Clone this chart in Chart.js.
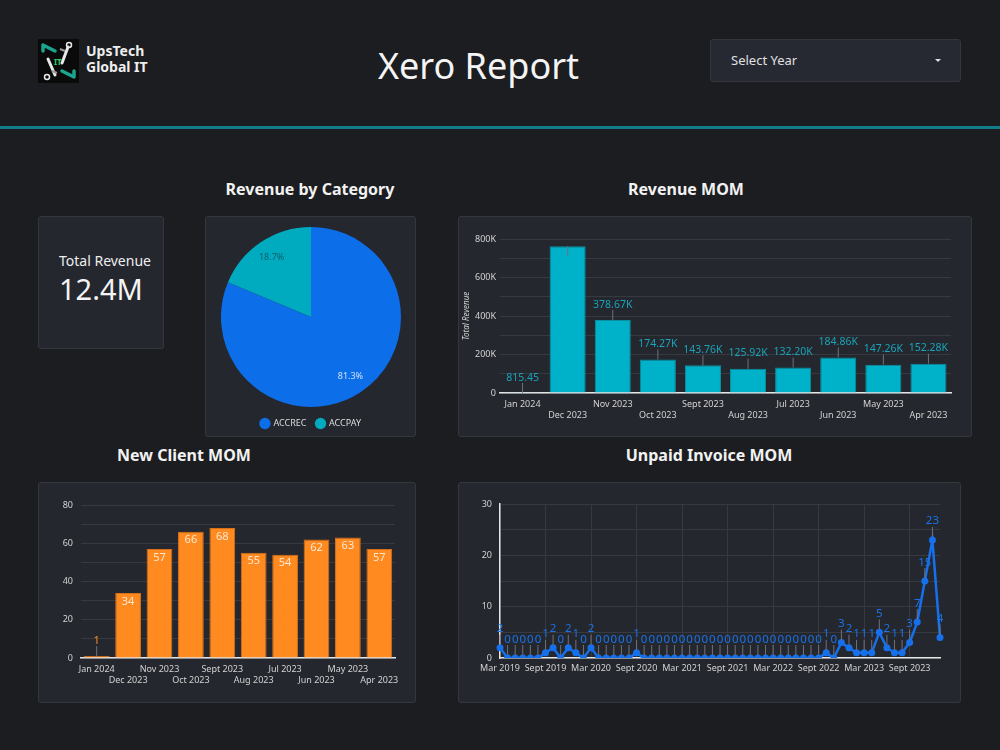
<!DOCTYPE html>
<html>
<head>
<meta charset="utf-8">
<title>Xero Report</title>
<script src="https://cdn.jsdelivr.net/npm/chart.js@4.4.1/dist/chart.umd.min.js"></script>
<style>
  html, body { margin: 0; padding: 0; }
  body { width: 1000px; height: 750px; background: #1c1d20; font-family: 'Noto Sans', sans-serif; color: #eee; position: relative; overflow: hidden; }
  .abs { position: absolute; }
  .card { position: absolute; background: #25272e; border: 1px solid #35373e; border-radius: 3px; box-sizing: border-box; }
  canvas.chart { position: absolute; }
  .title { position: absolute; font-weight: bold; font-size: 16px; color: #f2f2f2; text-align: center; white-space: nowrap; width: 300px; line-height: 20px; }
</style>
</head>
<body>

<!-- header -->
<div class="abs" style="left:38px;top:39px;width:41px;height:44px;">
  <svg width="41" height="44" viewBox="0 0 41 44">
    <rect width="41" height="44" fill="#0a0a0a"/>
    <path d="M5 6 L5 12 M5 6 L17 12" stroke="#19a58f" stroke-width="3.5" fill="none" stroke-linecap="round"/>
    <path d="M36 38 L36 32 M36 38 L24 32" stroke="#19a58f" stroke-width="3.5" fill="none" stroke-linecap="round"/>
    <path d="M30 8 L24 24" stroke="#e8e8e8" stroke-width="3" stroke-linecap="round"/>
    <path d="M10 20 L17 36" stroke="#e8e8e8" stroke-width="3" stroke-linecap="round"/>
    <circle cx="31" cy="6" r="2.5" fill="none" stroke="#e8e8e8" stroke-width="1.5"/>
    <circle cx="9" cy="38" r="2.5" fill="none" stroke="#e8e8e8" stroke-width="1.5"/>
    <path d="M22 10 L27 12 M14 32 L19 34" stroke="#9a9a9a" stroke-width="2"/>
    <text x="16" y="26" font-size="8" font-weight="bold" fill="#2fcf6a" font-family="Noto Sans">IT</text>
  </svg>
</div>
<div class="abs" style="left:86px;top:43px;font-weight:bold;font-size:14px;line-height:16px;color:#eee;">UpsTech<br>Global IT</div>
<div class="abs" style="left:0;width:957px;top:46px;text-align:center;font-size:36px;line-height:40px;color:#f4f4f4;">Xero Report</div>
<div class="abs" style="left:710px;top:39px;width:251px;height:43px;background:#262931;border:1px solid #34363d;border-radius:3px;box-sizing:border-box;">
  <div class="abs" style="left:20px;top:0;line-height:41px;font-size:13px;color:#e0e0e0;">Select Year</div>
  <div class="abs" style="left:224px;top:19px;width:0;height:0;border-left:3px solid transparent;border-right:3px solid transparent;border-top:3px solid #e0e0e0;"></div>
</div>
<div class="abs" style="left:0;top:126px;width:1000px;height:3px;background:#107d89;"></div>

<!-- titles -->
<div class="title" style="left:160px;top:179px;">Revenue by Category</div>
<div class="title" style="left:536px;top:179px;">Revenue MOM</div>
<div class="title" style="left:34px;top:445px;">New Client MOM</div>
<div class="title" style="left:559px;top:445px;">Unpaid Invoice MOM</div>

<!-- cards -->
<div class="card" style="left:38px;top:216px;width:126px;height:133px;">
  <div class="abs" style="left:20px;top:35px;font-size:14px;line-height:18px;color:#eee;">Total Revenue</div>
  <div class="abs" style="left:20px;top:54px;font-size:29px;line-height:36px;color:#f4f4f4;">12.4M</div>
</div>
<div class="card" style="left:205px;top:216px;width:211px;height:221px;"></div>
<div class="card" style="left:458px;top:216px;width:514px;height:221px;"></div>
<div class="card" style="left:38px;top:482px;width:378px;height:221px;"></div>
<div class="card" style="left:458px;top:482px;width:503px;height:221px;"></div>

<canvas class="chart" id="pieChart" width="210" height="222" style="left:205px;top:216px;"></canvas>
<canvas class="chart" id="revChart" width="513" height="220" style="left:458px;top:216px;"></canvas>
<canvas class="chart" id="clientChart" width="377" height="220" style="left:38px;top:482px;"></canvas>
<canvas class="chart" id="unpaidChart" width="503" height="220" style="left:458px;top:482px;"></canvas>

<script>
// ---- data ----
const categories = ['ACCREC', 'ACCPAY'];
const categoryShare = [81.3, 18.7];

const months = ['Jan 2024', 'Dec 2023', 'Nov 2023', 'Oct 2023', 'Sept 2023', 'Aug 2023', 'Jul 2023', 'Jun 2023', 'May 2023', 'Apr 2023'];
const revenue = [815.45, 761800, 378670, 174270, 143760, 125920, 132200, 184860, 147260, 152280];
const newClients = [1, 34, 57, 66, 68, 55, 54, 62, 63, 57];

const invoiceMonths = [
  'Mar 2019', 'Apr 2019', 'May 2019', 'Jun 2019', 'Jul 2019', 'Aug 2019', 'Sept 2019', 'Oct 2019', 'Nov 2019', 'Dec 2019',
  'Jan 2020', 'Feb 2020', 'Mar 2020', 'Apr 2020', 'May 2020', 'Jun 2020', 'Jul 2020', 'Aug 2020', 'Sept 2020', 'Oct 2020', 'Nov 2020', 'Dec 2020',
  'Jan 2021', 'Feb 2021', 'Mar 2021', 'Apr 2021', 'May 2021', 'Jun 2021', 'Jul 2021', 'Aug 2021', 'Sept 2021', 'Oct 2021', 'Nov 2021', 'Dec 2021',
  'Jan 2022', 'Feb 2022', 'Mar 2022', 'Apr 2022', 'May 2022', 'Jun 2022', 'Jul 2022', 'Aug 2022', 'Sept 2022', 'Oct 2022', 'Nov 2022', 'Dec 2022',
  'Jan 2023', 'Feb 2023', 'Mar 2023', 'Apr 2023', 'May 2023', 'Jun 2023', 'Jul 2023', 'Aug 2023', 'Sept 2023', 'Oct 2023', 'Nov 2023', 'Dec 2023',
  'Jan 2024'
];
const unpaidInvoices = [
  2, 0, 0, 0, 0, 0, 1, 2, 0, 2,
  1, 0, 2, 0, 0, 0, 0, 0, 1, 0, 0, 0,
  0, 0, 0, 0, 0, 0, 0, 0, 0, 0, 0, 0,
  0, 0, 0, 0, 0, 0, 0, 0, 0, 1, 0, 3,
  2, 1, 1, 1, 5, 2, 1, 1, 3, 7, 15, 23,
  4
];

// ---- common look ----
Chart.defaults.font.family = "'Noto Sans', sans-serif";
Chart.defaults.color = '#d2d2d2';
Chart.defaults.animation = false;

const gridCol = '#363940';
const axisCol = '#e6e6e6';
const leaderCol = '#707278';

// staggered two-row labels like the report
const staggered = months.map((m, i) => i % 2 === 0 ? [m, ''] : ['', m]);

function fmtK(v) {
  if (v < 1000) return v.toFixed(2);
  return (v / 1000).toFixed(2) + 'K';
}

// labels with a little grey leader line, drawn from the element positions
function leaderLabels(opts) {
  return {
    id: 'leaderLabels',
    afterDatasetsDraw(chart) {
      const ctx = chart.ctx;
      const meta = chart.getDatasetMeta(0);
      const data = chart.data.datasets[0].data;
      ctx.save();
      ctx.font = opts.font;
      ctx.textAlign = 'center';
      meta.data.forEach((el, i) => {
        const x = el.x, y = el.y;
        const txt = opts.format(data[i]);
        const barH = el.base !== undefined ? el.base - y : 0;
        if (opts.inside && barH > 20) {
          ctx.fillStyle = opts.insideColor;
          ctx.textBaseline = 'top';
          ctx.fillText(txt, x, y + 3);
          return;
        }
        const start = y - (opts.gap || 0);
        ctx.strokeStyle = leaderCol;
        ctx.lineWidth = 1;
        if (start - 10 - 10 < chart.chartArea.top) {
          // no room above: leader points down into the bar, label hidden
          ctx.beginPath();
          ctx.moveTo(x, y);
          ctx.lineTo(x, y + 10);
          ctx.stroke();
          return;
        }
        ctx.beginPath();
        ctx.moveTo(x, start);
        ctx.lineTo(x, start - 10);
        ctx.stroke();
        ctx.fillStyle = opts.color;
        ctx.textBaseline = 'bottom';
        ctx.fillText(txt, x, start - 10);
      });
      ctx.restore();
    }
  };
}

// ---- pie ----
const pieLabelPlugin = {
  id: 'pieLabels',
  afterDatasetsDraw(chart) {
    const ctx = chart.ctx;
    const cols = ['#cfe0ff', '#0b5f6c'];
    ctx.save();
    ctx.font = "9px 'Noto Sans'";
    ctx.textAlign = 'center';
    ctx.textBaseline = 'middle';
    chart.getDatasetMeta(0).data.forEach((arc, i) => {
      const mid = (arc.startAngle + arc.endAngle) / 2;
      const r = arc.outerRadius * 0.79;
      ctx.fillStyle = cols[i];
      ctx.fillText(categoryShare[i].toFixed(1) + '%', arc.x + Math.cos(mid) * r, arc.y + Math.sin(mid) * r);
    });
    ctx.restore();
  }
};

new Chart(document.getElementById('pieChart'), {
  type: 'pie',
  data: {
    labels: categories,
    datasets: [{ data: categoryShare, backgroundColor: ['#0d6ee9', '#00abc0'], borderWidth: 0 }]
  },
  options: {
    responsive: false,
    layout: { padding: { top: 9, left: 16, right: 14, bottom: 0 } },
    plugins: {
      legend: {
        position: 'bottom',
        labels: { usePointStyle: true, pointStyle: 'circle', boxWidth: 8, boxHeight: 8, padding: 10, font: { size: 9 }, color: '#dcdcdc' }
      },
      tooltip: { enabled: false }
    }
  },
  plugins: [pieLabelPlugin]
});

// ---- revenue MOM ----
new Chart(document.getElementById('revChart'), {
  type: 'bar',
  data: {
    labels: staggered,
    datasets: [{ data: revenue, backgroundColor: '#00b2c9', borderColor: '#0a8fa1', borderWidth: 1, barPercentage: 0.8, categoryPercentage: 1 }]
  },
  options: {
    responsive: false,
    layout: { padding: { top: 23, right: 20, bottom: 8, left: 0 } },
    plugins: { legend: { display: false }, tooltip: { enabled: false } },
    scales: {
      x: {
        grid: { display: false, drawTicks: false },
        border: { color: axisCol, width: 1.5 },
        ticks: { autoSkip: false, maxRotation: 0, padding: 6, font: { size: 9, lineHeight: 1.2 }, color: '#d2d2d2' },
        afterFit: s => { s.height = 35; }
      },
      y: {
        min: 0, max: 800000,
        grid: { color: gridCol, drawTicks: false },
        border: { display: false },
        ticks: {
          stepSize: 100000, autoSkip: false, padding: 4, font: { size: 9 },
          callback: v => v % 200000 === 0 ? (v === 0 ? '0' : (v / 1000) + 'K') : ''
        },
        title: { display: true, text: 'Total Revenue', font: { size: 8, style: 'italic' }, color: '#d2d2d2', padding: 4 },
        afterFit: s => { s.width = 42; }
      }
    }
  },
  plugins: [leaderLabels({ font: "10.5px 'Noto Sans'", color: '#1aa3b8', format: fmtK })]
});

// ---- new client MOM ----
new Chart(document.getElementById('clientChart'), {
  type: 'bar',
  data: {
    labels: staggered,
    datasets: [{ data: newClients, backgroundColor: '#ff8a1f', borderColor: '#d8701a', borderWidth: 1, barPercentage: 0.82, categoryPercentage: 1 }]
  },
  options: {
    responsive: false,
    layout: { padding: { top: 23, right: 20, bottom: 8, left: 0 } },
    plugins: { legend: { display: false }, tooltip: { enabled: false } },
    scales: {
      x: {
        grid: { display: false, drawTicks: false },
        border: { color: axisCol, width: 1.5 },
        ticks: { autoSkip: false, maxRotation: 0, padding: 6, font: { size: 9, lineHeight: 1.2 }, color: '#d2d2d2' },
        afterFit: s => { s.height = 36; }
      },
      y: {
        min: 0, max: 80,
        grid: { color: gridCol, drawTicks: false },
        border: { display: false },
        ticks: { stepSize: 10, autoSkip: false, padding: 8, font: { size: 9 }, callback: v => v % 20 === 0 ? v : '' },
        afterFit: s => { s.width = 43; }
      }
    }
  },
  plugins: [leaderLabels({ font: "11px 'Noto Sans'", color: '#ff8a1f', inside: true, insideColor: '#fde8d2', format: v => String(v) })]
});

// ---- unpaid invoice MOM ----
new Chart(document.getElementById('unpaidChart'), {
  type: 'line',
  data: {
    labels: invoiceMonths,
    datasets: [{
      data: unpaidInvoices, borderColor: '#1670ec', backgroundColor: '#1670ec', borderWidth: 2.5,
      pointRadius: 3.5, pointBackgroundColor: '#1670ec', pointBorderWidth: 0, tension: 0
    }]
  },
  options: {
    responsive: false,
    layout: { padding: { top: 22, right: 21, bottom: 8, left: 0 } },
    plugins: { legend: { display: false }, tooltip: { enabled: false } },
    scales: {
      x: {
        offset: false,
        grid: { color: c => c.index % 6 === 0 ? gridCol : 'transparent', drawTicks: false },
        border: { color: axisCol, width: 1.5 },
        ticks: {
          autoSkip: false, maxRotation: 0, padding: 5, font: { size: 9 }, color: '#d2d2d2',
          callback: function (v, i) { return i % 6 === 0 ? this.getLabelForValue(v) : ''; }
        },
        afterFit: s => { s.height = 36; }
      },
      y: {
        min: 0, max: 30,
        grid: { color: gridCol, drawTicks: false },
        border: { color: axisCol, width: 1.5 },
        ticks: { stepSize: 5, autoSkip: false, padding: 8, font: { size: 9 }, callback: v => v % 10 === 0 ? v : '' },
        afterFit: s => { s.width = 42; }
      }
    }
  },
  plugins: [leaderLabels({ font: "11.5px 'Noto Sans'", color: '#1a73e8', gap: 3, format: v => String(v) })]
});
</script>
</body>
</html>
